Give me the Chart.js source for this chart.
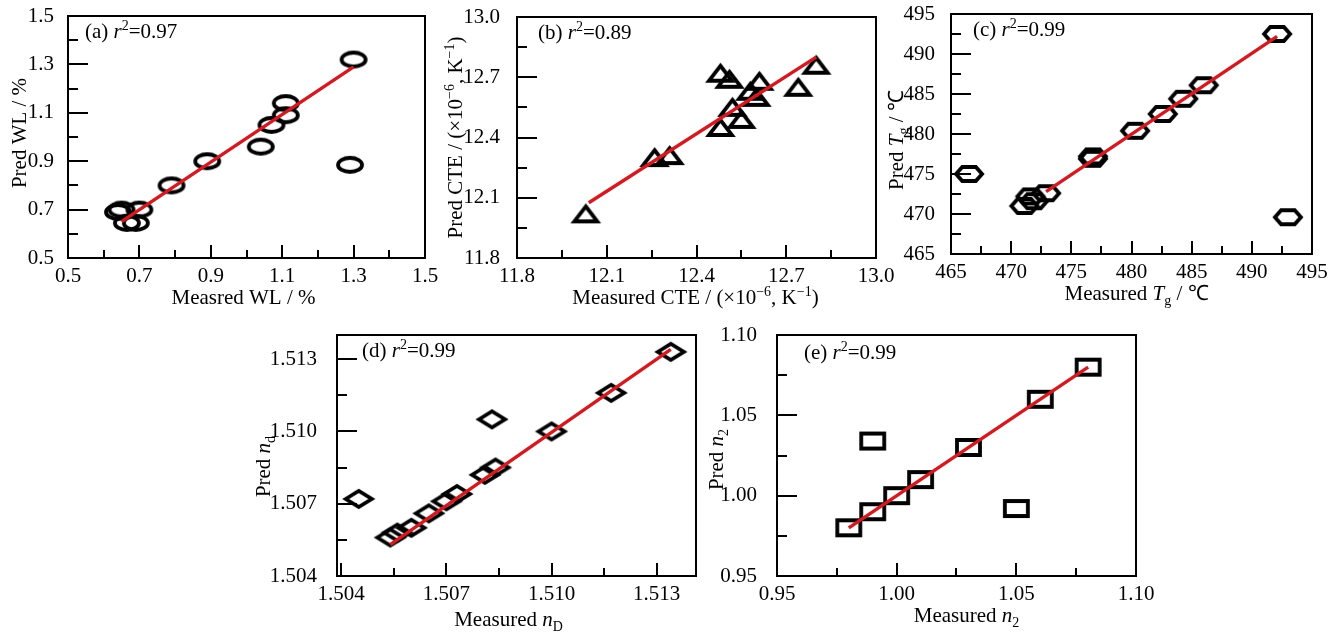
<!DOCTYPE html>
<html>
<head>
<meta charset="utf-8">
<script src="https://cdn.jsdelivr.net/npm/chart.js@4.4.0/dist/chart.umd.min.js"></script>
<style>
  body { margin: 0; background: #fff; }
  #wrap { position: relative; width: 1341px; height: 635px; }
  #wrap canvas { position: absolute; left: 0; top: 0; }
</style>
</head>
<body>
<div id="wrap">
  <canvas id="chartA" width="1341" height="635"></canvas>
  <canvas id="chartB" width="1341" height="635"></canvas>
  <canvas id="chartC" width="1341" height="635"></canvas>
  <canvas id="chartD" width="1341" height="635"></canvas>
  <canvas id="chartE" width="1341" height="635"></canvas>
</div>
<script>
// (a) water loss
const wlMeasured = [0.64, 0.65, 0.70, 0.665, 0.69, 0.79, 0.89, 1.04, 1.07, 1.11, 1.11, 1.29, 1.30];
const wlPred     = [0.69, 0.70, 0.70, 0.645, 0.645, 0.80, 0.90, 0.96, 1.05, 1.09, 1.14, 0.885, 1.32];
const wlFitX = [0.65, 1.30];
const wlFitY = [0.65, 1.29];
const wlTicks = [0.5, 0.7, 0.9, 1.1, 1.3, 1.5];
const wlMinor = [0.6, 0.8, 1.0, 1.2, 1.4];

// (b) CTE
const cteMeasured = [12.03, 12.26, 12.31, 12.48, 12.48, 12.51, 12.52, 12.55, 12.58, 12.60, 12.61, 12.74, 12.80];
const ctePred     = [12.02, 12.30, 12.31, 12.45, 12.72, 12.69, 12.55, 12.49, 12.63, 12.60, 12.68, 12.65, 12.76];
const cteFitX = [12.04, 12.80];
const cteFitY = [12.075, 12.80];
const cteTicks = [11.8, 12.1, 12.4, 12.7, 13.0];
const cteMinor = [11.95, 12.25, 12.55, 12.85];

// (c) Tg
const tgMeasured = [466.5, 471.1, 471.6, 471.9, 472.9, 476.8, 476.8, 480.3, 482.6, 484.3, 486.0, 492.1, 493.0];
const tgPred     = [475.0, 471.0, 472.2, 471.6, 472.6, 477.2, 476.9, 480.4, 482.5, 484.4, 486.1, 492.5, 469.6];
const tgFitX = [472.9, 492.1];
const tgFitY = [472.8, 492.2];
const tgTicks = [465, 470, 475, 480, 485, 490, 495];
const tgMinor = [467.5, 472.5, 477.5, 482.5, 487.5, 492.5];

// (d) nD
const ndMeasured = [1.5045, 1.5054, 1.5056, 1.5060, 1.5065, 1.5070, 1.5073, 1.5081, 1.5084, 1.5083, 1.5100, 1.5117, 1.5134];
const ndPred     = [1.5072, 1.5056, 1.5058, 1.5060, 1.5066, 1.5071, 1.5074, 1.5082, 1.5085, 1.5105, 1.5100, 1.5116, 1.5133];
const ndFitX = [1.5054, 1.5134];
const ndFitY = [1.5053, 1.5134];
const ndTicks = [1.504, 1.507, 1.510, 1.513];
const ndMinor = [1.5055, 1.5085, 1.5115];

// (e) n2
const n2Measured = [0.98, 0.99, 1.00, 1.01, 1.03, 1.06, 1.08, 0.99, 1.05];
const n2Pred     = [0.98, 0.99, 1.00, 1.01, 1.03, 1.06, 1.08, 1.034, 0.992];
const n2FitX = [0.98, 1.08];
const n2FitY = [0.98, 1.08];
const n2Ticks = [0.95, 1.00, 1.05, 1.10];
const n2Minor = [0.975, 1.025, 1.075];

const FONT = '"Liberation Serif", "Times New Roman", serif';
const RED = '#d7191f';
const BIG = 21, SMALL = 14;

// marker pictures, drawn once and handed to Chart.js as pointStyle
function marker(shape, w, h) {
  const pad = 5;
  const c = document.createElement('canvas');
  c.width = w + pad * 2;
  c.height = h + pad * 2;
  const g = c.getContext('2d');
  g.strokeStyle = '#000';
  g.lineWidth = 3.8;
  g.lineJoin = 'miter';
  const l = pad, t = pad, r = pad + w, b = pad + h, cx = pad + w / 2, cy = pad + h / 2;
  g.beginPath();
  if (shape == 'ellipse') {
    g.ellipse(cx, cy, w / 2, h / 2, 0, 0, Math.PI * 2);
  } else if (shape == 'triangle') {
    g.moveTo(cx, t); g.lineTo(r, b); g.lineTo(l, b); g.closePath();
  } else if (shape == 'hexagon') {
    g.moveTo(l, cy); g.lineTo(l + w * 0.24, t); g.lineTo(r - w * 0.24, t);
    g.lineTo(r, cy); g.lineTo(r - w * 0.24, b); g.lineTo(l + w * 0.24, b); g.closePath();
  } else if (shape == 'diamond') {
    g.moveTo(l, cy); g.lineTo(cx, t); g.lineTo(r, cy); g.lineTo(cx, b); g.closePath();
  } else {
    g.rect(l, t, w, h);
  }
  g.stroke();
  return c;
}

// text with italic / sub / sup pieces
function segFont(st) {
  const small = st.indexOf('sub') >= 0 || st.indexOf('sup') >= 0;
  const it = st.indexOf('i') == 0;
  return (it ? 'italic ' : '') + (small ? SMALL : BIG) + 'px ' + FONT;
}
function richWidth(ctx, segs) {
  let w = 0;
  segs.forEach(s => { ctx.font = segFont(s[1]); w += ctx.measureText(s[0]).width; });
  return w;
}
function drawRich(ctx, segs, x, y, centered) {
  ctx.textBaseline = 'alphabetic';
  ctx.textAlign = 'left';
  ctx.fillStyle = '#000';
  let cx = centered ? x - richWidth(ctx, segs) / 2 : x;
  segs.forEach(s => {
    ctx.font = segFont(s[1]);
    let dy = 0;
    if (s[1].indexOf('sub') >= 0) dy = 5;
    if (s[1].indexOf('sup') >= 0) dy = -8;
    ctx.fillText(s[0], cx, y + dy);
    cx += ctx.measureText(s[0]).width;
  });
}

function note(letter, r2) {
  return [['(' + letter + ') ', ''], ['r', 'i'], ['2', 'sup'], ['=' + r2, '']];
}

// frame, inward ticks, titles and r2 note
function decor(p) {
  return {
    id: 'decor',
    afterDraw(chart) {
      const ctx = chart.ctx, a = chart.chartArea;
      const xs = chart.scales.x, ys = chart.scales.y;
      ctx.save();
      ctx.strokeStyle = '#000';
      ctx.lineWidth = 2;
      ctx.strokeRect(a.left, a.top, a.right - a.left, a.bottom - a.top);
      const tickX = (vals, len) => vals.forEach(v => {
        if (v <= xs.min || v >= xs.max) return;
        const px = Math.round(xs.getPixelForValue(v));
        ctx.beginPath(); ctx.moveTo(px, a.bottom); ctx.lineTo(px, a.bottom - len); ctx.stroke();
      });
      const tickY = (vals, len) => vals.forEach(v => {
        if (v <= ys.min || v >= ys.max) return;
        const py = Math.round(ys.getPixelForValue(v));
        ctx.beginPath(); ctx.moveTo(a.left, py); ctx.lineTo(a.left + len, py); ctx.stroke();
      });
      tickX(p.xTicks, 13); tickX(p.minor, 8);
      tickY(p.yTicks, 20); tickY(p.minor, 10);

      drawRich(ctx, p.note, a.left + p.noteAt[0], a.top + p.noteAt[1], false);
      drawRich(ctx, p.xTitle, (a.left + a.right) / 2 + p.xTitleAt[0], a.bottom + p.xTitleAt[1], true);
      ctx.translate(a.left - p.yTitleAt[0], (a.top + a.bottom) / 2 + p.yTitleAt[1]);
      ctx.rotate(-Math.PI / 2);
      drawRich(ctx, p.yTitle, 0, 0, true);
      ctx.restore();
    }
  };
}

function makeChart(id, p) {
  const [L, T, R, B] = p.box;
  const YW = 70, XH = 40;
  const tickFont = { family: FONT, size: BIG };
  new Chart(document.getElementById(id), {
    type: 'scatter',
    data: {
      datasets: [
        {
          data: p.fitX.map((x, i) => ({ x: x, y: p.fitY[i] })),
          showLine: true, borderColor: RED, borderWidth: 3.4, pointRadius: 0, order: 0
        },
        {
          data: p.mx.map((x, i) => ({ x: x, y: p.py[i] })),
          pointStyle: p.marker, pointRadius: 6, order: 1
        }
      ]
    },
    options: {
      responsive: false,
      animation: false,
      events: [],
      layout: { padding: { left: L - YW, top: T, right: 1341 - R, bottom: 635 - B - XH } },
      plugins: { legend: { display: false }, tooltip: { enabled: false } },
      scales: {
        x: {
          type: 'linear', min: p.xMin, max: p.xMax,
          grid: { display: false }, border: { display: false },
          afterBuildTicks: s => { s.ticks = p.xTicks.map(v => ({ value: v })); },
          afterFit: s => { s.height = XH; s.paddingLeft = 0; s.paddingRight = 0; },
          ticks: { font: tickFont, color: '#000', padding: -2, maxRotation: 0, autoSkip: false,
                   callback: v => Number(v).toFixed(p.dec) }
        },
        y: {
          type: 'linear', min: p.yMin, max: p.yMax,
          grid: { display: false }, border: { display: false },
          afterBuildTicks: s => { s.ticks = p.yTicks.map(v => ({ value: v })); },
          afterFit: s => { s.width = YW; s.paddingTop = 0; s.paddingBottom = 0; },
          ticks: { font: tickFont, color: '#000', padding: p.yPad, autoSkip: false,
                   callback: v => Number(v).toFixed(p.dec) }
        }
      }
    },
    plugins: [decor(p)]
  });
}

makeChart('chartA', {
  box: [68, 16, 425, 258], mx: wlMeasured, py: wlPred, fitX: wlFitX, fitY: wlFitY,
  xMin: 0.5, xMax: 1.5, yMin: 0.5, yMax: 1.5, xTicks: wlTicks, yTicks: wlTicks, minor: wlMinor, dec: 1,
  marker: marker('ellipse', 24, 14), yPad: 6,
  note: note('a', '0.97'), noteAt: [17, 22],
  xTitle: [['Measred WL / %', '']], xTitleAt: [-3, 46],
  yTitle: [['Pred WL / %', '']], yTitleAt: [42, -4]
});

makeChart('chartB', {
  box: [517, 17, 876, 258], mx: cteMeasured, py: ctePred, fitX: cteFitX, fitY: cteFitY,
  xMin: 11.8, xMax: 13.0, yMin: 11.8, yMax: 13.0, xTicks: cteTicks, yTicks: cteTicks, minor: cteMinor, dec: 1,
  marker: marker('triangle', 23, 15), yPad: 9,
  note: note('b', '0.89'), noteAt: [21, 22],
  xTitle: [['Measured CTE / (\u00d710', ''], ['\u22126', 'sup'], [', K', ''], ['\u22121', 'sup'], [')', '']], xTitleAt: [-1, 46],
  yTitle: [['Pred CTE / (\u00d710', ''], ['\u22126', 'sup'], [', K', ''], ['\u22121', 'sup'], [')', '']], yTitleAt: [55, 0]
});

makeChart('chartC', {
  box: [951, 14, 1312, 254], mx: tgMeasured, py: tgPred, fitX: tgFitX, fitY: tgFitY,
  xMin: 465, xMax: 495, yMin: 465, yMax: 495, xTicks: tgTicks, yTicks: tgTicks, minor: tgMinor, dec: 0,
  marker: marker('hexagon', 26, 14), yPad: 8,
  note: note('c', '0.99'), noteAt: [22, 22],
  xTitle: [['Measured ', ''], ['T', 'i'], ['g', 'sub'], [' / \u2103', '']], xTitleAt: [5, 46],
  yTitle: [['Pred ', ''], ['T', 'i'], ['g', 'sub'], [' / \u2103', '']], yTitleAt: [48, 6]
});

makeChart('chartD', {
  box: [337, 335, 696, 576], mx: ndMeasured, py: ndPred, fitX: ndFitX, fitY: ndFitY,
  xMin: 1.50388, xMax: 1.51412, yMin: 1.504, yMax: 1.514, xTicks: ndTicks, yTicks: ndTicks, minor: ndMinor, dec: 3,
  marker: marker('diamond', 26, 16), yPad: 12,
  note: note('d', '0.99'), noteAt: [25, 22],
  xTitle: [['Measured ', ''], ['n', 'i'], ['D', 'sub']], xTitleAt: [-8, 50],
  yTitle: [['Pred ', ''], ['n', 'i'], ['d', 'sub']], yTitleAt: [67, 11]
});

makeChart('chartE', {
  box: [777, 335, 1136, 576], mx: n2Measured, py: n2Pred, fitX: n2FitX, fitY: n2FitY,
  xMin: 0.95, xMax: 1.10, yMin: 0.95, yMax: 1.10, xTicks: n2Ticks, yTicks: n2Ticks, minor: n2Minor, dec: 2,
  marker: marker('square', 23, 15), yPad: 12,
  note: note('e', '0.99'), noteAt: [27, 24],
  xTitle: [['Measured ', ''], ['n', 'i'], ['2', 'sub']], xTitleAt: [10, 46],
  yTitle: [['Pred ', ''], ['n', 'i'], ['2', 'sub']], yTitleAt: [54, 4]
});
</script>
</body>
</html>
